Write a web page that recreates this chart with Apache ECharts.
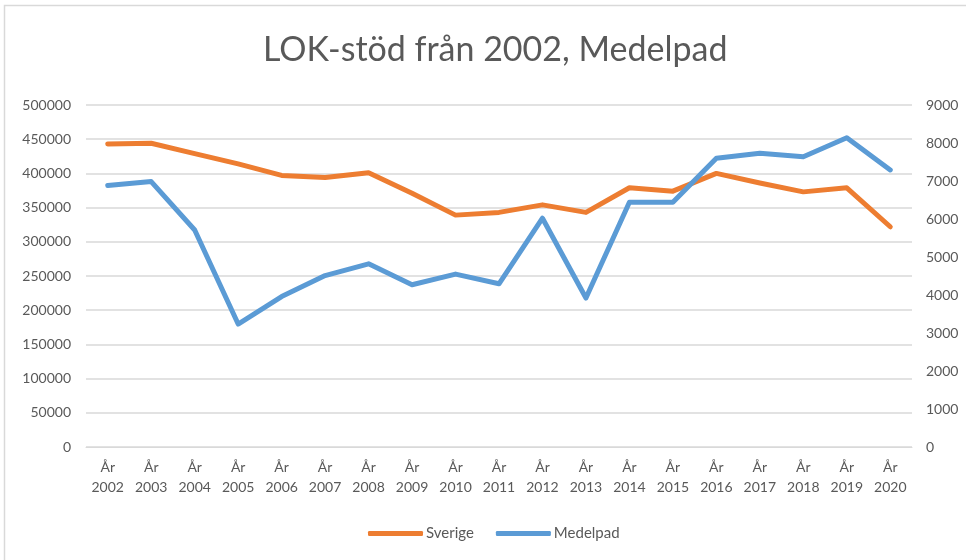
<!DOCTYPE html>
<html>
<head>
<meta charset="utf-8">
<script src="https://cdn.jsdelivr.net/npm/echarts@6/dist/echarts.min.js"></script>
<style>html,body{margin:0;padding:0;background:#fff;}#c{width:966px;height:560px;}</style>
</head>
<body>
<div id="c"></div>
<script>
const years = ['2002','2003','2004','2005','2006','2007','2008','2009','2010','2011','2012','2013','2014','2015','2016','2017','2018','2019','2020'];
const categories = years.map(y => 'År\n' + y);
const sverige = [443000, 444000, 429000, 414000, 397000, 394000, 401000, 371000, 339000, 343000, 354000, 343000, 379000, 374000, 400000, 386000, 373000, 379000, 322000];
const medelpad = [6880, 6985, 5710, 3235, 3960, 4510, 4820, 4270, 4550, 4295, 6020, 3920, 6440, 6440, 7600, 7730, 7640, 8140, 7290];
const leftTicks = [0, 500000, 50000];
const rightTicks = [0, 9000, 1000];

const FONT = 'Lato';
const plain = v => String(v);
const chart = echarts.init(document.getElementById('c'), null, {renderer: 'canvas'});
chart.setOption({
  backgroundColor: '#fff',
  animation: false,
  title: {
    text: 'LOK-stöd från 2002, Medelpad',
    left: 258, top: 28,
    textStyle: {fontFamily: FONT, fontSize: 34, fontWeight: 'normal', color: '#595959'}
  },
  graphic: [{
    type: 'rect', shape: {x: 4.5, y: 5.5, width: 1000, height: 600},
    style: {fill: 'none', stroke: '#d9d9d9', lineWidth: 1.5}, silent: true, z: -1
  }],
  legend: {
    bottom: 14, left: 363,
    itemWidth: 55, itemHeight: 5, itemGap: 22,
    icon: 'roundRect',
    textStyle: {fontFamily: FONT, fontSize: 15, color: '#595959', padding: [0, 0, 0, -2]},
    data: ['Sverige', 'Medelpad']
  },
  grid: {left: 86, right: 54, top: 105, bottom: 113, containLabel: false},
  xAxis: {
    type: 'category', data: categories, boundaryGap: true,
    axisLine: {show: true, lineStyle: {color: '#d9d9d9', width: 1}},
    axisTick: {show: false},
    axisLabel: {fontFamily: FONT, fontSize: 14, color: '#595959', lineHeight: 20, margin: 10, interval: 0}
  },
  yAxis: [{
    type: 'value', min: leftTicks[0], max: leftTicks[1], interval: leftTicks[2], position: 'left',
    axisLine: {show: false}, axisTick: {show: false},
    splitLine: {lineStyle: {color: '#d9d9d9', width: 1.5}},
    axisLabel: {fontFamily: FONT, fontSize: 14, color: '#595959', margin: 15, formatter: plain}
  }, {
    type: 'value', min: rightTicks[0], max: rightTicks[1], interval: rightTicks[2], position: 'right',
    axisLine: {show: false}, axisTick: {show: false},
    splitLine: {show: false},
    axisLabel: {fontFamily: FONT, fontSize: 14, color: '#595959', margin: 14, formatter: plain}
  }],
  series: [{
    name: 'Sverige', type: 'line', data: sverige, yAxisIndex: 0,
    symbol: 'none', color: '#ED7D31',
    lineStyle: {width: 5, color: '#ED7D31', cap: 'round', join: 'round'}
  }, {
    name: 'Medelpad', type: 'line', data: medelpad, yAxisIndex: 1,
    symbol: 'none', color: '#5B9BD5',
    lineStyle: {width: 5, color: '#5B9BD5', cap: 'round', join: 'round'}
  }]
});
</script>
</body>
</html>
